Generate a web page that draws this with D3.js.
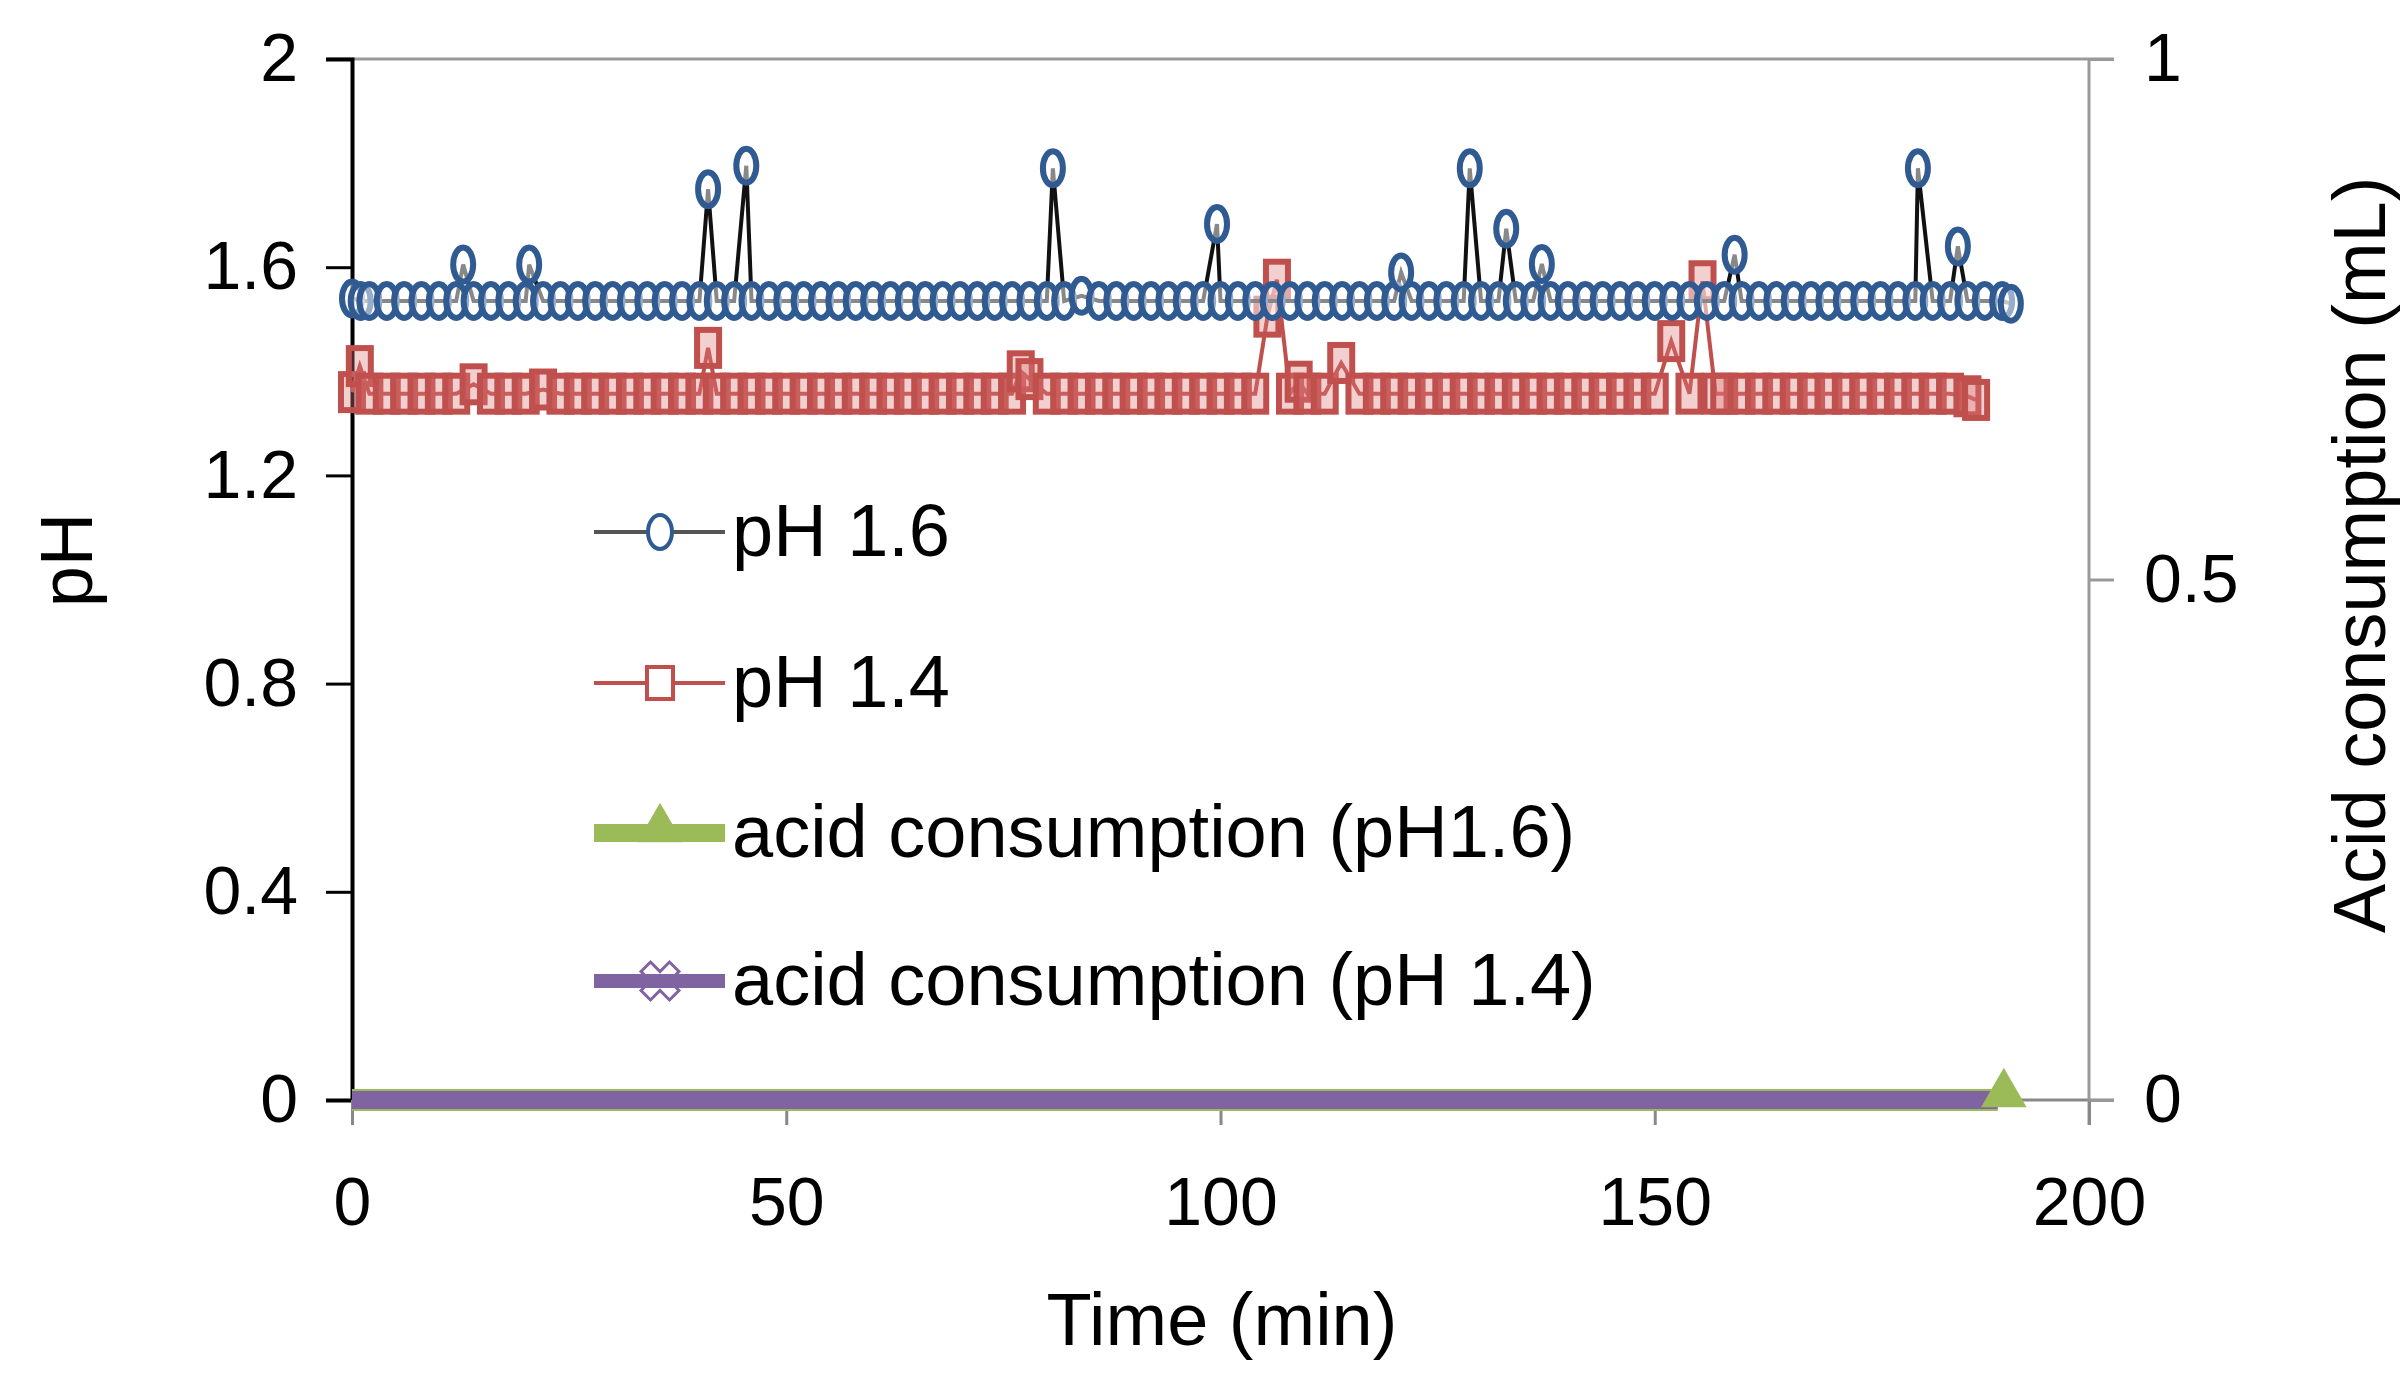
<!DOCTYPE html>
<html lang="en">
<head>
<meta charset="UTF-8">
<title>pH and acid consumption</title>
<script src="https://cdnjs.cloudflare.com/ajax/libs/d3/7.8.5/d3.min.js"></script>
<style>
body { margin: 0; background: #fff; }
text { font-family: "Liberation Sans", Arial, sans-serif; }
</style>
</head>
<body>
<svg id="chart" width="2406" height="1375"></svg>
<script>
// pH 1.6 run: time (min) and pH readings
const t16 = [0,1,2,4,6,8,10,12,12.8,14,16,18,20,20.4,22,24,26,28,30,32,34,36,38,40,41,42,44,45.4,46,48,50,52,54,56,58,60,62,64,66,68,70,72,74,76,78,80,80.7,82,84,86,88,90,92,94,96,98,99.6,100,102,104,106,108,110,112,114,116,118,120,120.8,122,124,126,128,128.7,130,132,132.9,134,136,137,138,140,142,144,146,148,150,152,154,156,158,159.2,160,162,164,166,168,170,172,174,176,178,180,180.3,182,184,184.9,186,188,190,191];
const ph16 = [1.54,1.535,1.535,1.535,1.535,1.535,1.535,1.535,1.605,1.535,1.535,1.535,1.535,1.605,1.535,1.535,1.535,1.535,1.535,1.535,1.535,1.535,1.535,1.535,1.75,1.535,1.535,1.795,1.535,1.535,1.535,1.535,1.535,1.535,1.535,1.535,1.535,1.535,1.535,1.535,1.535,1.535,1.535,1.535,1.535,1.535,1.79,1.535,1.545,1.535,1.535,1.535,1.535,1.535,1.535,1.535,1.683,1.535,1.535,1.535,1.535,1.535,1.535,1.535,1.535,1.535,1.535,1.535,1.59,1.535,1.535,1.535,1.535,1.79,1.535,1.535,1.674,1.535,1.535,1.606,1.535,1.535,1.535,1.535,1.535,1.535,1.535,1.535,1.535,1.535,1.535,1.624,1.535,1.535,1.535,1.535,1.535,1.535,1.535,1.535,1.535,1.535,1.535,1.79,1.535,1.535,1.64,1.535,1.535,1.535,1.53];
// pH 1.4 run
const t14 = [0,0.9,2,4,6,8,10,12,14,16,18,20,22,24,26,28,30,32,34,36,38,40,41,42,44,46,48,50,52,54,56,58,60,62,64,66,68,70,72,74,76,77,78,80,82,84,86,88,90,92,94,96,98,100,102,104,105.4,106.5,108,109,110,112,113.9,116,118,120,122,124,126,128,130,132,134,136,138,140,142,144,146,148,150,151.9,154,155.5,157,158,160,162,164,166,168,170,172,174,176,178,180,182,184,186,187];
const ph14 = [1.36,1.41,1.357,1.357,1.357,1.357,1.357,1.357,1.375,1.357,1.357,1.357,1.365,1.357,1.357,1.357,1.357,1.357,1.357,1.357,1.357,1.357,1.445,1.357,1.357,1.357,1.357,1.357,1.357,1.357,1.357,1.357,1.357,1.357,1.357,1.357,1.357,1.357,1.357,1.357,1.357,1.4,1.385,1.357,1.357,1.357,1.357,1.357,1.357,1.357,1.357,1.357,1.357,1.357,1.357,1.357,1.505,1.576,1.357,1.38,1.357,1.357,1.416,1.357,1.357,1.357,1.357,1.357,1.357,1.357,1.357,1.357,1.357,1.357,1.357,1.357,1.357,1.357,1.357,1.357,1.357,1.458,1.357,1.573,1.357,1.357,1.357,1.357,1.357,1.357,1.357,1.357,1.357,1.357,1.357,1.357,1.357,1.357,1.357,1.352,1.345];
// acid consumption (mL), both runs stay at zero
const tAcid = [0,189.5];
const acid16 = [0,0];
const acid14 = [0,0];
const xTicks = [0,50,100,150,200];
const yTicks = [0,0.4,0.8,1.2,1.6,2];
const y2Ticks = [0,0.5,1];

const svg = d3.select("#chart");
const L = 352, R = 2089, T = 59, B = 1100;
const x = d3.scaleLinear().domain([0,200]).range([L,R]);
const y = d3.scaleLinear().domain([0,2]).range([B,T]);
const y2 = d3.scaleLinear().domain([0,1]).range([B,T]);

// frame
svg.append("line").attr("x1",L-25).attr("x2",R+25).attr("y1",T).attr("y2",T).attr("stroke","#999").attr("stroke-width",3);
svg.append("line").attr("x1",L).attr("x2",R+25).attr("y1",B).attr("y2",B).attr("stroke","#888").attr("stroke-width",3);
svg.append("line").attr("x1",R).attr("x2",R).attr("y1",T).attr("y2",B+25).attr("stroke","#999").attr("stroke-width",3);

// left axis
const ay = svg.append("g").attr("transform",`translate(${L},0)`)
  .call(d3.axisLeft(y).tickValues(yTicks).tickSize(26).tickPadding(28).tickFormat(d3.format("")));
ay.select(".domain").attr("stroke","#000").attr("stroke-width",4);
ay.selectAll(".tick line").attr("stroke","#000").attr("stroke-width",3);
ay.selectAll("text").attr("font-size",68).attr("fill","#000");

// x axis
const ax = svg.append("g").attr("transform",`translate(0,${B})`)
  .call(d3.axisBottom(x).tickValues(xTicks).tickSize(25).tickPadding(52));
ax.select(".domain").remove();
ax.selectAll(".tick line").attr("stroke","#888").attr("stroke-width",3);
ax.selectAll("text").attr("font-size",68).attr("fill","#000");

// right axis
const ay2 = svg.append("g").attr("transform",`translate(${R},0)`)
  .call(d3.axisRight(y2).tickValues(y2Ticks).tickSize(25).tickPadding(30).tickFormat(d3.format("")));
ay2.select(".domain").remove();
ay2.selectAll(".tick line").attr("stroke","#999").attr("stroke-width",3);
ay2.selectAll("text").attr("font-size",68).attr("fill","#000");

// titles
svg.append("text").attr("x",1222).attr("y",1345).attr("text-anchor","middle").attr("font-size",74).text("Time (min)");
svg.append("text").attr("transform","translate(92,560) rotate(-90)").attr("text-anchor","middle").attr("font-size",74).text("pH");
svg.append("text").attr("transform","translate(2385,555) rotate(-90)").attr("text-anchor","middle").attr("font-size",74).text("Acid consumption (mL)");

const line = d3.line().x(d => x(d[0])).y(d => y(d[1]));
const line2 = d3.line().x(d => x(d[0])).y(d => y2(d[1]));
const d16 = t16.map((t,i) => [t, ph16[i]]);
const d14 = t14.map((t,i) => [t, ph14[i]]);

// acid consumption lines
svg.append("path").attr("d", line2(tAcid.map((t,i)=>[t,acid16[i]]))).attr("fill","none").attr("stroke","#9bbb59").attr("stroke-width",22);
svg.append("path").attr("d", line2(tAcid.map((t,i)=>[t,acid14[i]]))).attr("fill","none").attr("stroke","#8064a2").attr("stroke-width",18);
const tri = d3.symbol().type(d3.symbolTriangle).size(900);
svg.append("path").attr("d",tri()).attr("transform",`translate(${x(tAcid[1])+6},${y2(acid16[1])-6})`).attr("fill","#9bbb59");

// pH 1.4
svg.append("path").attr("d", line(d14)).attr("fill","none").attr("stroke","#c0504d").attr("stroke-width",4);
svg.append("g").selectAll("rect").data(d14).join("rect")
  .attr("x", d => x(d[0]) - 11).attr("y", d => y(d[1]) - 18).attr("width",22).attr("height",36)
  .attr("fill","#d77").attr("fill-opacity",0.35).attr("stroke","#c0504d").attr("stroke-width",6);

// pH 1.6
svg.append("path").attr("d", line(d16)).attr("fill","none").attr("stroke","#111").attr("stroke-width",4);
svg.append("g").selectAll("ellipse").data(d16).join("ellipse")
  .attr("cx", d => x(d[0])).attr("cy", d => y(d[1])).attr("rx",10).attr("ry",17)
  .attr("fill","#fff").attr("fill-opacity",0.5).attr("stroke","#2f5a92").attr("stroke-width",6);

// legend
const lg = svg.append("g");
const rows = [532, 683, 833, 981];
const labels = ["pH 1.6","pH 1.4","acid consumption (pH1.6)","acid consumption (pH 1.4)"];
lg.append("line").attr("x1",594).attr("x2",725).attr("y1",rows[0]).attr("y2",rows[0]).attr("stroke","#555").attr("stroke-width",4);
lg.append("ellipse").attr("cx",660).attr("cy",rows[0]).attr("rx",12).attr("ry",17).attr("fill","#fff").attr("stroke","#2f5a92").attr("stroke-width",4);
lg.append("line").attr("x1",594).attr("x2",725).attr("y1",rows[1]).attr("y2",rows[1]).attr("stroke","#c0504d").attr("stroke-width",4);
lg.append("rect").attr("x",647).attr("y",rows[1]-16).attr("width",26).attr("height",32).attr("fill","#fff").attr("stroke","#c0504d").attr("stroke-width",4);
lg.append("line").attr("x1",594).attr("x2",725).attr("y1",rows[2]).attr("y2",rows[2]).attr("stroke","#9bbb59").attr("stroke-width",18);
lg.append("path").attr("d",tri()).attr("transform",`translate(660,${rows[2]-4})`).attr("fill","#9bbb59");
lg.append("line").attr("x1",594).attr("x2",725).attr("y1",rows[3]).attr("y2",rows[3]).attr("stroke","#8064a2").attr("stroke-width",14);
lg.append("path").attr("d",d3.symbol().type(d3.symbolCross).size(900)()).attr("transform",`translate(660,${rows[3]}) rotate(45)`).attr("fill","none").attr("stroke","#8064a2").attr("stroke-width",3);
lg.selectAll("text.lab").data(labels).join("text").attr("class","lab")
  .attr("x",732).attr("y",(d,i) => rows[i] + 24).attr("font-size",74).text(d => d);
</script>
</body>
</html>
